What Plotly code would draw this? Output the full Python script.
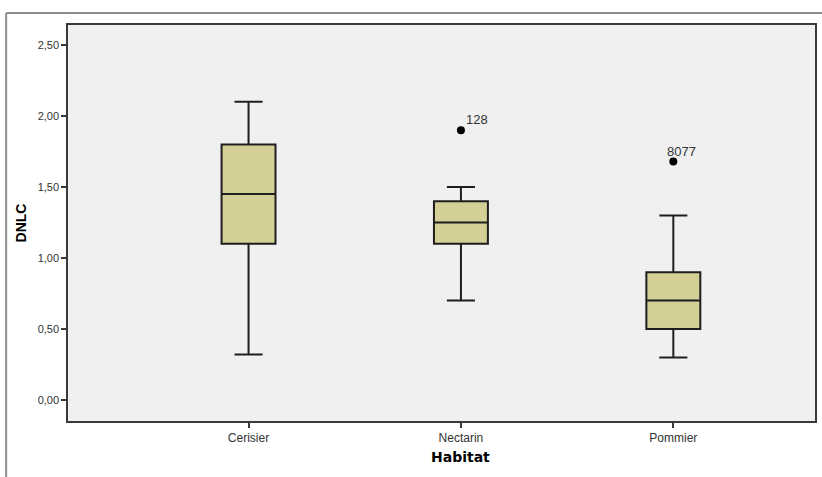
import plotly.graph_objects as go

# Boxplot summary of DNLC by habitat
habitats = ["Cerisier", "Nectarin", "Pommier"]
lower_whisker = [0.32, 0.70, 0.30]
q1 = [1.10, 1.10, 0.50]
median = [1.45, 1.25, 0.70]
q3 = [1.80, 1.40, 0.90]
upper_whisker = [2.10, 1.50, 1.30]

# Outlying cases (habitat index, value, case id)
outlier_habitat = [1, 2]
outlier_value = [1.90, 1.68]
outlier_id = ["128", "8077"]

y_ticks = [0.0, 0.5, 1.0, 1.5, 2.0, 2.5]

positions = list(range(len(habitats)))

fig = go.Figure()
fig.add_trace(go.Box(
    x=positions,
    q1=q1, median=median, q3=q3,
    lowerfence=lower_whisker, upperfence=upper_whisker,
    boxpoints=False,
    width=0.254,
    whiskerwidth=0.52,
    fillcolor="#d3cf97",
    line=dict(color="#1e1e1e", width=2),
    showlegend=False,
    hoverinfo="skip",
))
fig.add_trace(go.Scatter(
    x=outlier_habitat, y=outlier_value, mode="markers",
    marker=dict(color="black", size=8, symbol="circle"),
    showlegend=False, hoverinfo="skip",
))

label_shift = [(3, 11, "left"), (8, 10, "center")]
for xi, yi, txt, (dx, dy, anc) in zip(outlier_habitat, outlier_value, outlier_id, label_shift):
    fig.add_annotation(
        x=xi, y=yi, text=txt, showarrow=False,
        xanchor=anc, yanchor="middle", xshift=dx, yshift=dy,
        font=dict(family="Liberation Sans, Arial, sans-serif", size=13, color="#333333"),
    )

# X axis title, centred under the middle category
fig.add_annotation(
    x=1, y=-0.091, xref="x", yref="paper", text="<b>Habitat</b>", showarrow=False,
    xanchor="center", yanchor="middle",
    font=dict(family="DejaVu Sans, Verdana, sans-serif", size=14, color="black"),
)

# Outer grey frame (top and left edges)
frame = dict(color="#8c8c8c", width=2)
fig.add_shape(type="line", xref="paper", yref="paper",
              x0=-0.0828, x1=1.01, y0=1.0303, y1=1.0303, line=frame)
fig.add_shape(type="line", xref="paper", yref="paper",
              x0=-0.0828, x1=-0.0828, y0=1.0303, y1=-0.15, line=frame)

fig.update_layout(
    width=822, height=477,
    margin=dict(l=68, r=5, t=25, b=56),
    paper_bgcolor="white",
    plot_bgcolor="#f0f0f0",
    separators=", ",
    xaxis=dict(
        range=[-0.85, 2.667],
        tickvals=positions, ticktext=habitats,
        showgrid=False, zeroline=False,
        showline=True, linecolor="#3a3a3a", linewidth=1.5, mirror=True,
        ticks="outside", ticklen=5, tickcolor="#3a3a3a", tickwidth=1.5,
        tickfont=dict(family="Liberation Sans, Arial, sans-serif", size=12, color="#333333"),
    ),
    yaxis=dict(
        range=[-0.148, 2.641],
        tickvals=y_ticks, tickformat=".2f",
        showgrid=False, zeroline=False,
        showline=True, linecolor="#3a3a3a", linewidth=1.5, mirror=True,
        ticks="outside", ticklen=5, tickcolor="#3a3a3a", tickwidth=1.5,
        tickfont=dict(family="Liberation Sans, Arial, sans-serif", size=11, color="#333333"),
        title=dict(text="<b>DNLC</b>", standoff=8,
                   font=dict(family="Liberation Sans, Arial, sans-serif", size=14, color="black")),
    ),
)

fig.write_html("out.html")
